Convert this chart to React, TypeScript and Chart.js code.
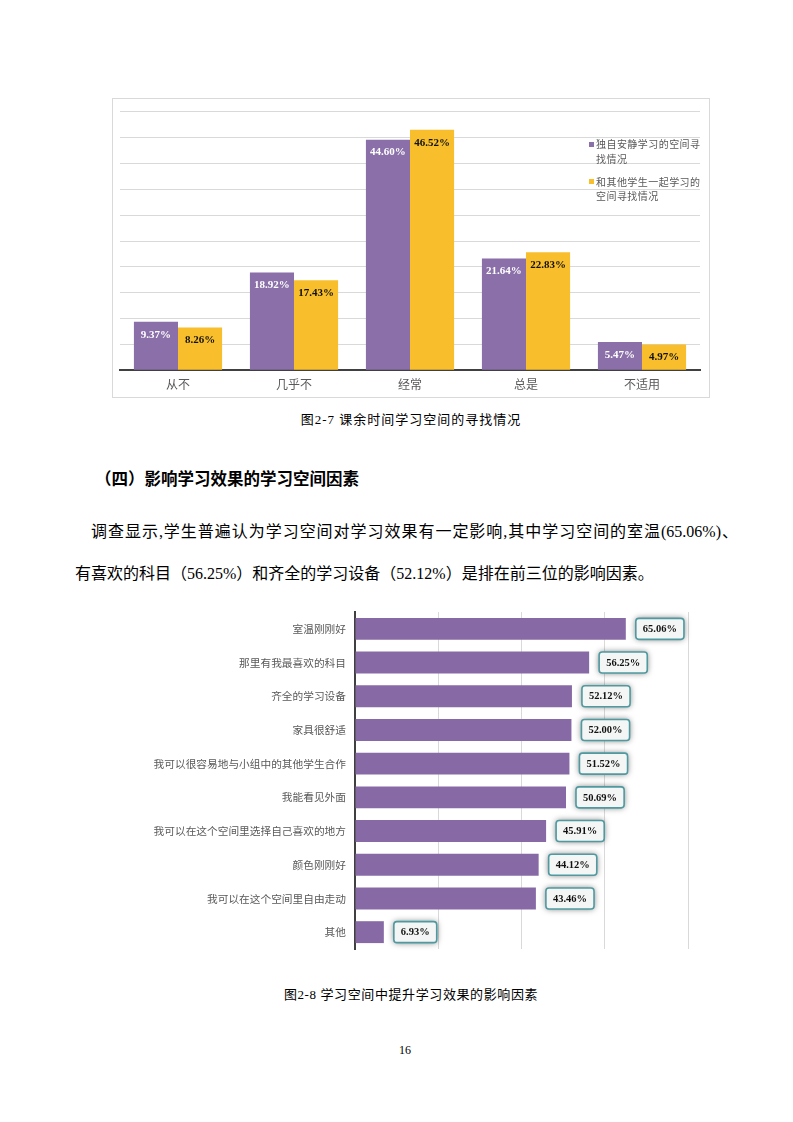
import React, { useEffect, useRef } from "react";
import { Chart, registerables } from "chart.js";

Chart.register(...registerables);

// ---------- Data: Figure 2-7 ----------
const cats1 = ["从不", "几乎不", "经常", "总是", "不适用"];
const aloneVals = [9.37, 18.92, 44.6, 21.64, 5.47];
const groupVals = [8.26, 17.43, 46.52, 22.83, 4.97];
const seriesNames1 = ["独自安静学习的空间寻找情况", "和其他学生一起学习的空间寻找情况"];
const legendLines1 = [
  ["独自安静学习的空间寻", "找情况"],
  ["和其他学生一起学习的", "空间寻找情况"],
];
const y1Max = 50;
const y1Step = 5;

// ---------- Data: Figure 2-8 ----------
const cats2 = [
  "室温刚刚好",
  "那里有我最喜欢的科目",
  "齐全的学习设备",
  "家具很舒适",
  "我可以很容易地与小组中的其他学生合作",
  "我能看见外面",
  "我可以在这个空间里选择自己喜欢的地方",
  "颜色刚刚好",
  "我可以在这个空间里自由走动",
  "其他",
];
const vals2 = [65.06, 56.25, 52.12, 52.0, 51.52, 50.69, 45.91, 44.12, 43.46, 6.93];
const x2Max = 80;
const x2Step = 20;

const PURPLE = "#8a6fa8";
const YELLOW = "#f8be2b";
const PURPLE2 = "#876aa5";
const CJK = '"Noto Sans CJK SC", sans-serif';
const SERIF = '"Liberation Serif", "Noto Sans CJK SC", serif';

function ChartOne() {
  const ref = useRef<HTMLCanvasElement | null>(null);
  useEffect(() => {
    if (!ref.current) return;
    const labelPlugin = {
      id: "barLabels1",
      afterDatasetsDraw(chart: any) {
        const ctx = chart.ctx;
        ctx.save();
        ctx.font = 'bold 11px "Liberation Serif"';
        ctx.textAlign = "center";
        ctx.textBaseline = "middle";
        chart.data.datasets.forEach((ds: any, di: number) => {
          const meta = chart.getDatasetMeta(di);
          meta.data.forEach((bar: any, i: number) => {
            ctx.fillStyle = di === 0 ? "#ffffff" : "#111111";
            ctx.fillText(ds.data[i].toFixed(2) + "%", bar.x, bar.y + 13);
          });
        });
        ctx.restore();
      },
    };
    const chart = new Chart(ref.current, {
      type: "bar",
      data: {
        labels: cats1,
        datasets: [
          {
            label: seriesNames1[0],
            data: aloneVals,
            backgroundColor: PURPLE,
            categoryPercentage: 0.76,
            barPercentage: 1,
          },
          {
            label: seriesNames1[1],
            data: groupVals,
            backgroundColor: YELLOW,
            categoryPercentage: 0.76,
            barPercentage: 1,
          },
        ],
      },
      options: {
        animation: false,
        responsive: false,
        maintainAspectRatio: false,
        layout: { padding: { left: 7, right: 9, top: 12.7, bottom: 0 } },
        plugins: { legend: { display: false }, tooltip: { enabled: false } },
        scales: {
          x: {
            grid: { display: false, drawTicks: false },
            border: { display: true, color: "#404040", width: 2 },
            ticks: { color: "#595959", font: { size: 12, family: CJK }, padding: 7 },
            afterFit: (s: any) => {
              s.height = 26.7;
              s.paddingLeft = 0;
              s.paddingRight = 0;
            },
          },
          y: {
            min: 0,
            max: y1Max,
            ticks: { display: false, stepSize: y1Step },
            grid: { color: "#d9d9d9", drawTicks: false },
            border: { display: false },
            afterFit: (s: any) => {
              s.width = 0;
              s.paddingTop = 0;
              s.paddingBottom = 0;
            },
          },
        },
      },
      plugins: [labelPlugin],
    } as any);
    return () => chart.destroy();
  }, []);
  return <canvas ref={ref} width={596} height={298} style={{ display: "block" }} />;
}

function roundRect(ctx: CanvasRenderingContext2D, x: number, y: number, w: number, h: number, r: number) {
  ctx.beginPath();
  ctx.moveTo(x + r, y);
  ctx.lineTo(x + w - r, y);
  ctx.quadraticCurveTo(x + w, y, x + w, y + r);
  ctx.lineTo(x + w, y + h - r);
  ctx.quadraticCurveTo(x + w, y + h, x + w - r, y + h);
  ctx.lineTo(x + r, y + h);
  ctx.quadraticCurveTo(x, y + h, x, y + h - r);
  ctx.lineTo(x, y + r);
  ctx.quadraticCurveTo(x, y, x + r, y);
  ctx.closePath();
}

function ChartTwo() {
  const ref = useRef<HTMLCanvasElement | null>(null);
  useEffect(() => {
    if (!ref.current) return;
    const boxPlugin = {
      id: "boxLabels2",
      afterDatasetsDraw(chart: any) {
        const ctx = chart.ctx as CanvasRenderingContext2D;
        const meta = chart.getDatasetMeta(0);
        const data = chart.data.datasets[0].data;
        meta.data.forEach((bar: any, i: number) => {
          const text = Number(data[i]).toFixed(2) + "%";
          ctx.save();
          ctx.font = 'bold 10.5px "Liberation Serif"';
          const tw = ctx.measureText(text).width;
          const w = tw + 14;
          const h = 21;
          const x = bar.x + 10;
          const y = bar.y - h / 2;
          ctx.shadowColor = "rgba(0,0,0,0.55)";
          ctx.shadowBlur = 6;
          ctx.fillStyle = "#f4f5f5";
          roundRect(ctx, x, y, w, h, 3);
          ctx.fill();
          ctx.shadowColor = "rgba(0,0,0,0)";
          ctx.shadowBlur = 0;
          ctx.lineWidth = 1.6;
          ctx.strokeStyle = "#4f9aa0";
          roundRect(ctx, x, y, w, h, 3);
          ctx.stroke();
          ctx.fillStyle = "#111111";
          ctx.textAlign = "center";
          ctx.textBaseline = "middle";
          ctx.fillText(text, x + w / 2, bar.y + 0.5);
          ctx.restore();
        });
      },
    };
    const chart = new Chart(ref.current, {
      type: "bar",
      data: {
        labels: cats2,
        datasets: [
          {
            data: vals2,
            backgroundColor: PURPLE2,
            categoryPercentage: 0.65,
            barPercentage: 1,
          },
        ],
      },
      options: {
        indexAxis: "y",
        animation: false,
        responsive: false,
        maintainAspectRatio: false,
        layout: { padding: { left: 0, right: 12, top: 7, bottom: 6 } },
        plugins: { legend: { display: false }, tooltip: { enabled: false } },
        scales: {
          y: {
            grid: { display: false, drawTicks: false },
            border: { display: true, color: "#404040", width: 2 },
            ticks: { color: "#595959", font: { size: 10.7, family: CJK }, padding: 9 },
            afterFit: (s: any) => {
              s.width = 215;
              s.paddingTop = 0;
              s.paddingBottom = 0;
            },
          },
          x: {
            min: 0,
            max: x2Max,
            ticks: { display: false, stepSize: x2Step },
            grid: { color: "#d9d9d9", drawTicks: false },
            border: { display: false },
            afterFit: (s: any) => {
              s.height = 0;
              s.paddingLeft = 0;
              s.paddingRight = 0;
            },
          },
        },
      },
      plugins: [boxPlugin],
    } as any);
    return () => chart.destroy();
  }, []);
  return <canvas ref={ref} width={560} height={350} style={{ display: "block" }} />;
}

const abs = (left: number, top: number, extra: React.CSSProperties = {}): React.CSSProperties => ({
  position: "absolute",
  left,
  top,
  whiteSpace: "nowrap",
  ...extra,
});

export default function App() {
  const legendColors = [PURPLE, YELLOW];
  const legendTops = [144, 181.5];
  return (
    <div
      style={{
        position: "absolute",
        left: 0,
        top: 0,
        width: 793,
        height: 1122,
        background: "#ffffff",
        fontFamily: SERIF,
        color: "#000",
      }}
    >
      {/* Figure 2-7 */}
      <div
        style={{
          position: "absolute",
          left: 112,
          top: 98,
          width: 596,
          height: 298,
          border: "1px solid #d9d9d9",
        }}
      >
        <ChartOne />
        {legendLines1.map((lines, i) => (
          <div key={i}>
            <div
              style={abs(476, legendTops[i] - 99 - 2.5, {
                width: 5,
                height: 5,
                background: legendColors[i],
              })}
            />
            {lines.map((ln, j) => (
              <div
                key={j}
                style={abs(483, legendTops[i] - 99 - 7 + j * 14.5, {
                  fontFamily: CJK,
                  fontSize: 10,
                  lineHeight: "14px",
                  letterSpacing: "0.45px",
                  color: "#595959",
                })}
              >
                {ln}
              </div>
            ))}
          </div>
        ))}
      </div>
      <div
        style={abs(411, 410, {
          transform: "translateX(-50%)",
          fontSize: 13,
          lineHeight: "20px",
          letterSpacing: "1px",
          fontFamily: SERIF,
        })}
      >
        图2-7 课余时间学习空间的寻找情况
      </div>

      {/* Heading */}
      <div
        style={abs(95, 466, {
          fontFamily: CJK,
          fontWeight: 700,
          fontSize: 16.5,
          lineHeight: "24px",
        })}
      >
        （四）影响学习效果的学习空间因素
      </div>

      {/* Body text */}
      <div
        style={{
          position: "absolute",
          left: 75,
          top: 520,
          width: 663,
          fontSize: 16,
          lineHeight: "24px",
          textIndent: 16,
          textAlign: "justify",
          textAlignLast: "justify",
          whiteSpace: "nowrap",
        } as React.CSSProperties}
      >
        调查显示,学生普遍认为学习空间对学习效果有一定影响,其中学习空间的室温(65.06%)、
      </div>
      <div style={abs(75, 562, { fontSize: 16, lineHeight: "24px" })}>
        有喜欢的科目（56.25%）和齐全的学习设备（52.12%）是排在前三位的影响因素。
      </div>

      {/* Figure 2-8 */}
      <div style={{ position: "absolute", left: 140, top: 605 }}>
        <ChartTwo />
      </div>
      <div
        style={abs(411, 985, {
          transform: "translateX(-50%)",
          fontSize: 13,
          lineHeight: "20px",
          letterSpacing: "0.6px",
        })}
      >
        图2-8 学习空间中提升学习效果的影响因素
      </div>

      {/* Page number */}
      <div style={abs(405, 1041, { transform: "translateX(-50%)", fontSize: 12, lineHeight: "18px", color: "#000" })}>16</div>
    </div>
  );
}
